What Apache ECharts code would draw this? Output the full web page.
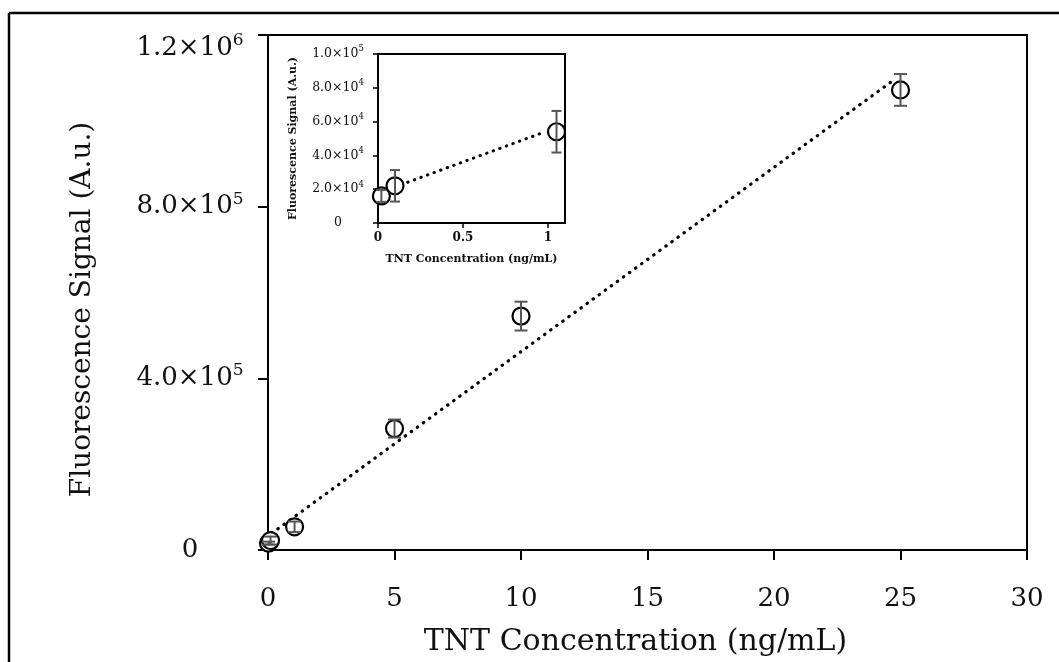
<!DOCTYPE html>
<html>
<head>
<meta charset="utf-8">
<script src="https://cdn.jsdelivr.net/npm/echarts@6/dist/echarts.min.js"></script>
<style>
  html, body { margin: 0; padding: 0; background: #fff; }
  #chart { width: 1059px; height: 662px; }
</style>
</head>
<body>
<div id="chart"></div>
<script>
// TNT concentration (ng/mL) and fluorescence signal (A.u.)
const concentration = [0.02, 0.1, 1.05, 5, 10, 25];
const signal = [16000, 22000, 54000, 283000, 545000, 1072000];
const signalErr = [3500, 9300, 12300, 21000, 33600, 37000];

// fitted lines, endpoints
const fitX = [0.15, 24.8];
const fitY = [39000, 1098000];
const insetFitX = [0.02, 0.97];
const insetFitY = [18400, 53500];

// inset only shows the low range
const insetX = concentration.slice(0, 3);
const insetY = signal.slice(0, 3);
const insetErr = signalErr.slice(0, 3);

// tick labels: [mantissa, exponent]
const mainYTicks = [0, 400000, 800000, 1200000];
const mainYLabels = [['0', ''], ['4.0×10', '5'], ['8.0×10', '5'], ['1.2×10', '6']];
const insetYTicks = [0, 20000, 40000, 60000, 80000, 100000];
const insetYLabels = [['0', ''], ['2.0×10', '4'], ['4.0×10', '4'], ['6.0×10', '4'], ['8.0×10', '4'], ['1.0×10', '5']];

const FONT = 'DejaVu Serif';
const INK = '#111';

// last label of the main axis sits lower, inside the frame
const pick = (ticks, labels, dropLast) => v => {
  const i = ticks.indexOf(v);
  if (i < 0) return '';
  const [m, e] = labels[i];
  const txt = e ? `{b|${m}}{s|${e}}` : `{b|${m}}`;
  return dropLast && i === ticks.length - 1 ? `{gap| }\n${txt}` : txt;
};

const sciRich = (size, supSize, drop) => ({
  b: { fontFamily: FONT, fontSize: size, lineHeight: size + 6, color: INK },
  s: { fontFamily: FONT, fontSize: supSize, lineHeight: supSize, verticalAlign: 'top', color: INK },
  gap: { fontSize: 4, lineHeight: drop }
});

const pairs = (xs, ys) => xs.map((x, i) => [x, ys[i]]);

// vertical error bar with caps
const errorBar = (capHalf) => (params, api) => {
  const x = api.value(0);
  const lo = api.coord([x, api.value(1) - api.value(2)]);
  const hi = api.coord([x, api.value(1) + api.value(2)]);
  const style = { stroke: '#555', lineWidth: 2 };
  return {
    type: 'group',
    children: [
      { type: 'line', shape: { x1: lo[0], y1: lo[1], x2: hi[0], y2: hi[1] }, style },
      { type: 'line', shape: { x1: hi[0] - capHalf, y1: hi[1], x2: hi[0] + capHalf, y2: hi[1] }, style },
      { type: 'line', shape: { x1: lo[0] - capHalf, y1: lo[1], x2: lo[0] + capHalf, y2: lo[1] }, style }
    ]
  };
};

const chart = echarts.init(document.getElementById('chart'));

chart.setOption({
  animation: false,
  backgroundColor: '#fff',
  textStyle: { fontFamily: FONT, color: INK },
  graphic: [
    // outer frame of the figure
    { type: 'line', z: 5, shape: { x1: 9, y1: 13, x2: 1059, y2: 13 }, style: { stroke: '#000', lineWidth: 2.5 } },
    { type: 'line', z: 5, shape: { x1: 9, y1: 13, x2: 9, y2: 662 }, style: { stroke: '#000', lineWidth: 2.5 } },
    // white panel behind the inset
    { type: 'rect', z: 1, shape: { x: 280, y: 36, width: 320, height: 246 }, style: { fill: '#fff' } }
  ],
  grid: [
    { left: 268, top: 35, right: 32, bottom: 110, show: true, borderColor: '#000', borderWidth: 2, z: 0 },
    { left: 378, top: 54, width: 187, height: 169, show: true, borderColor: '#000', borderWidth: 2, z: 3 }
  ],
  xAxis: [
    {
      gridIndex: 0, type: 'value', min: 0, max: 30, interval: 5,
      name: 'TNT Concentration (ng/mL)', nameLocation: 'middle', nameGap: 77,
      nameTextStyle: { fontFamily: FONT, fontSize: 30, color: INK, padding: [0, 24, 0, 0] },
      axisLine: { lineStyle: { color: '#000', width: 2 } },
      axisTick: { inside: false, length: 10, lineStyle: { color: '#000', width: 2 } },
      axisLabel: { margin: 36, fontFamily: FONT, fontSize: 26, color: INK },
      splitLine: { show: false }
    },
    {
      gridIndex: 1, type: 'value', min: 0, max: 1.1, interval: 0.5, z: 3,
      name: 'TNT Concentration (ng/mL)', nameLocation: 'middle', nameGap: 31,
      nameTextStyle: { fontFamily: FONT, fontSize: 11, fontWeight: 'bold', color: INK },
      axisLine: { lineStyle: { color: '#000', width: 2 } },
      axisTick: { inside: false, length: 5, lineStyle: { color: '#000', width: 1.5 } },
      axisLabel: { margin: 9, fontFamily: FONT, fontSize: 12, fontWeight: 'bold', color: INK, showMaxLabel: false },
      splitLine: { show: false }
    }
  ],
  yAxis: [
    {
      gridIndex: 0, type: 'value', min: 0, max: 1200000, interval: 400000,
      name: 'Fluorescence Signal (A.u.)', nameLocation: 'middle', nameGap: 171,
      nameTextStyle: { fontFamily: FONT, fontSize: 28, color: INK, padding: [0, 34, 0, 0] },
      axisLine: { lineStyle: { color: '#000', width: 2 } },
      axisTick: { inside: false, length: 10, lineStyle: { color: '#000', width: 2 } },
      axisLabel: {
        margin: 78, align: 'center', color: INK,
        formatter: pick(mainYTicks, mainYLabels, true),
        rich: sciRich(26, 17, 26)
      },
      splitLine: { show: false }
    },
    {
      gridIndex: 1, type: 'value', min: 0, max: 100000, interval: 20000, z: 3,
      name: 'Fluorescence Signal (A.u.)', nameLocation: 'middle', nameGap: 79,
      nameTextStyle: { fontFamily: FONT, fontSize: 11, fontWeight: 'bold', color: INK },
      axisLine: { lineStyle: { color: '#000', width: 2 } },
      axisTick: { inside: false, length: 5, lineStyle: { color: '#000', width: 1.5 } },
      axisLabel: {
        margin: 40, align: 'center', color: INK,
        formatter: pick(insetYTicks, insetYLabels, false),
        rich: sciRich(12.5, 8.5, 0)
      },
      splitLine: { show: false }
    }
  ],
  series: [
    {
      type: 'line', xAxisIndex: 0, yAxisIndex: 0, z: 2,
      data: pairs(fitX, fitY), symbol: 'none',
      lineStyle: { color: '#000', width: 3.2, type: [0.5, 7], cap: 'round' }
    },
    {
      type: 'scatter', xAxisIndex: 0, yAxisIndex: 0, z: 3,
      data: pairs(concentration, signal), symbol: 'circle', symbolSize: 17,
      itemStyle: { color: '#fff', borderColor: '#000', borderWidth: 2.2, opacity: 1 }
    },
    {
      type: 'custom', xAxisIndex: 0, yAxisIndex: 0, z: 4,
      data: concentration.map((x, i) => [x, signal[i], signalErr[i]]),
      renderItem: errorBar(6.5)
    },
    {
      type: 'line', xAxisIndex: 1, yAxisIndex: 1, z: 4,
      data: pairs(insetFitX, insetFitY), symbol: 'none',
      lineStyle: { color: '#000', width: 3, type: [0.5, 6.5], cap: 'round' }
    },
    {
      type: 'scatter', xAxisIndex: 1, yAxisIndex: 1, z: 5,
      data: pairs(insetX, insetY), symbol: 'circle', symbolSize: 17,
      itemStyle: { color: '#fff', borderColor: '#000', borderWidth: 2.2, opacity: 1 }
    },
    {
      type: 'custom', xAxisIndex: 1, yAxisIndex: 1, z: 6,
      data: insetX.map((x, i) => [x, insetY[i], insetErr[i]]),
      renderItem: errorBar(5)
    }
  ]
});
</script>
</body>
</html>
